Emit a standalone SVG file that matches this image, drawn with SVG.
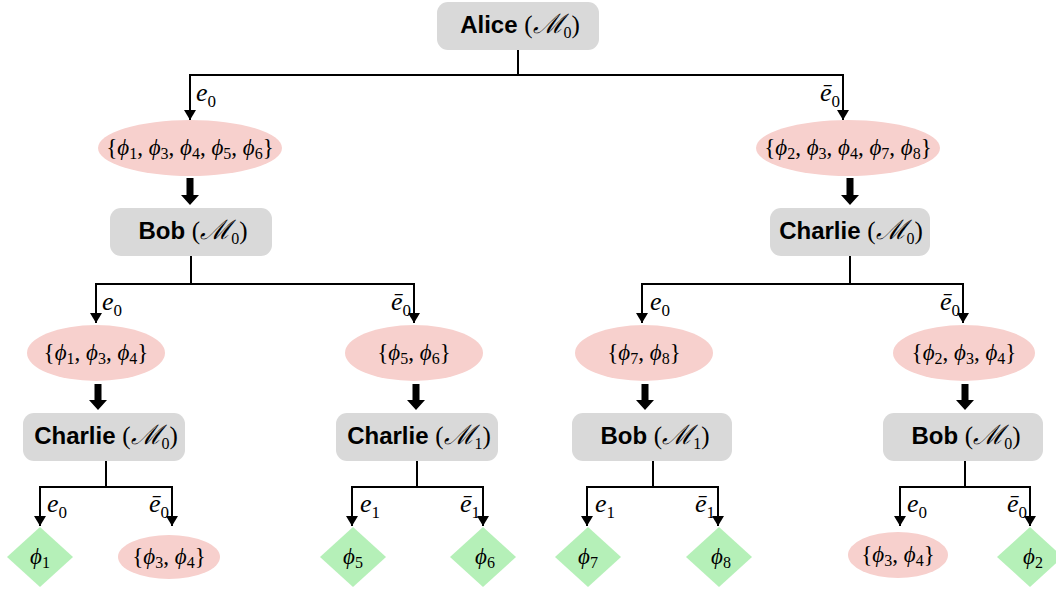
<svg xmlns="http://www.w3.org/2000/svg" width="1056" height="591" viewBox="0 0 1056 591">
<defs>
<style>
.box{fill:#d9d9d9}
.set{fill:#f7d0cd}
.leaf{fill:#b5f0b8}
.ln{stroke:#000;stroke-width:2;fill:none}
.ar{marker-end:url(#ah)}
.thick{fill:#000}
.t{font-family:"Liberation Sans",Arial,sans-serif;font-weight:bold;font-size:24px;fill:#000}
.m{font-family:"Liberation Serif","DejaVu Serif",serif;font-weight:normal;font-size:25px}
.M{font-style:italic;font-size:27px}
.mi{font-style:italic}
.sub{font-size:16px;font-style:normal}
.s{font-family:"Liberation Serif","DejaVu Serif",serif;font-size:23px;fill:#000}
.el{font-family:"Liberation Serif","DejaVu Serif",serif;font-size:26px;font-style:italic;fill:#000}
.els{font-size:17px;font-style:normal}
</style>
<marker id="ah" viewBox="0 0 10 12" markerWidth="10" markerHeight="12" refX="10" refY="6" orient="auto" markerUnits="userSpaceOnUse">
<path d="M0,0 L10,6 L0,12 z" fill="#000"/>
</marker>
</defs>
<rect width="1056" height="591" fill="#fff"/>

<g id="connectors">
<path class="ln" d="M518,50 V75 M190,75 H843"/>
<path class="ln ar" d="M190,74 V120"/>
<path class="ln ar" d="M843,74 V120"/>
<path class="ln" d="M191,255 V284 M96,284 H414"/>
<path class="ln ar" d="M96,283 V323"/>
<path class="ln ar" d="M414,283 V323"/>
<path class="ln" d="M850,255 V284 M642,284 H963"/>
<path class="ln ar" d="M642,283 V323"/>
<path class="ln ar" d="M963,283 V323"/>
<path class="ln" d="M106,461 V487 M40,487 H172"/>
<path class="ln ar" d="M40,486 V526"/>
<path class="ln ar" d="M172,486 V526"/>
<path class="ln" d="M417,461 V487 M352,487 H483"/>
<path class="ln ar" d="M352,486 V526"/>
<path class="ln ar" d="M483,486 V526"/>
<path class="ln" d="M653,461 V487 M587,487 H718"/>
<path class="ln ar" d="M587,486 V526"/>
<path class="ln ar" d="M718,486 V526"/>
<path class="ln" d="M965,461 V487 M900,487 H1030"/>
<path class="ln ar" d="M900,486 V526"/>
<path class="ln ar" d="M1030,486 V526"/>
<path class="thick" d="M186.5,178 h7 v17 h5.5 l-9,10 l-9,-10 h5.5 z"/>
<path class="thick" d="M846.5,178 h7 v17 h5.5 l-9,10 l-9,-10 h5.5 z"/>
<path class="thick" d="M94.5,384 h7 v16 h5.5 l-9,10 l-9,-10 h5.5 z"/>
<path class="thick" d="M412.5,384 h7 v16 h5.5 l-9,10 l-9,-10 h5.5 z"/>
<path class="thick" d="M641.5,384 h7 v16 h5.5 l-9,10 l-9,-10 h5.5 z"/>
<path class="thick" d="M961.5,384 h7 v16 h5.5 l-9,10 l-9,-10 h5.5 z"/>
<text class="el" x="196" y="101">e<tspan class="els" dy="6">0</tspan></text>
<text class="el" x="840" y="101" text-anchor="end">ē<tspan class="els" dy="6">0</tspan></text>
<text class="el" x="102" y="310">e<tspan class="els" dy="6">0</tspan></text>
<text class="el" x="411" y="310" text-anchor="end">ē<tspan class="els" dy="6">0</tspan></text>
<text class="el" x="650" y="310">e<tspan class="els" dy="6">0</tspan></text>
<text class="el" x="960" y="310" text-anchor="end">ē<tspan class="els" dy="6">0</tspan></text>
<text class="el" x="47" y="512">e<tspan class="els" dy="6">0</tspan></text>
<text class="el" x="169" y="512" text-anchor="end">ē<tspan class="els" dy="6">0</tspan></text>
<text class="el" x="360" y="512">e<tspan class="els" dy="6">1</tspan></text>
<text class="el" x="480" y="512" text-anchor="end">ē<tspan class="els" dy="6">1</tspan></text>
<text class="el" x="595" y="512">e<tspan class="els" dy="6">1</tspan></text>
<text class="el" x="715" y="512" text-anchor="end">ē<tspan class="els" dy="6">1</tspan></text>
<text class="el" x="907" y="512">e<tspan class="els" dy="6">0</tspan></text>
<text class="el" x="1027" y="512" text-anchor="end">ē<tspan class="els" dy="6">0</tspan></text>
</g>

<g id="alice">
<rect class="box" x="437" y="2" width="162" height="48" rx="11"/>
<text class="t" x="520" y="33" text-anchor="middle">Alice <tspan class="m">(</tspan><tspan class="m M">ℳ</tspan><tspan class="m sub" dy="5">0</tspan><tspan class="m" dy="-5">)</tspan></text>
</g>

<g id="set-left">
<ellipse class="set" cx="190" cy="148" rx="92" ry="28"/>
<text class="s" x="190" y="155" text-anchor="middle">{<tspan class="mi">ϕ</tspan><tspan class="sub" dy="4">1</tspan><tspan dy="-4">, </tspan><tspan class="mi">ϕ</tspan><tspan class="sub" dy="4">3</tspan><tspan dy="-4">, </tspan><tspan class="mi">ϕ</tspan><tspan class="sub" dy="4">4</tspan><tspan dy="-4">, </tspan><tspan class="mi">ϕ</tspan><tspan class="sub" dy="4">5</tspan><tspan dy="-4">, </tspan><tspan class="mi">ϕ</tspan><tspan class="sub" dy="4">6</tspan><tspan dy="-4">}</tspan></text>
</g>

<g id="set-right">
<ellipse class="set" cx="848" cy="148" rx="92" ry="28"/>
<text class="s" x="848" y="155" text-anchor="middle">{<tspan class="mi">ϕ</tspan><tspan class="sub" dy="4">2</tspan><tspan dy="-4">, </tspan><tspan class="mi">ϕ</tspan><tspan class="sub" dy="4">3</tspan><tspan dy="-4">, </tspan><tspan class="mi">ϕ</tspan><tspan class="sub" dy="4">4</tspan><tspan dy="-4">, </tspan><tspan class="mi">ϕ</tspan><tspan class="sub" dy="4">7</tspan><tspan dy="-4">, </tspan><tspan class="mi">ϕ</tspan><tspan class="sub" dy="4">8</tspan><tspan dy="-4">}</tspan></text>
</g>

<g id="bob-l2">
<rect class="box" x="110" y="208" width="162" height="48" rx="11"/>
<text class="t" x="193" y="239" text-anchor="middle">Bob <tspan class="m">(</tspan><tspan class="m M">ℳ</tspan><tspan class="m sub" dy="5">0</tspan><tspan class="m" dy="-5">)</tspan></text>
</g>

<g id="charlie-l2">
<rect class="box" x="770" y="208" width="160" height="48" rx="11"/>
<text class="t" x="851" y="239" text-anchor="middle">Charlie <tspan class="m">(</tspan><tspan class="m M">ℳ</tspan><tspan class="m sub" dy="5">0</tspan><tspan class="m" dy="-5">)</tspan></text>
</g>

<g id="set-134">
<ellipse class="set" cx="96" cy="353" rx="69" ry="28"/>
<text class="s" x="96" y="360" text-anchor="middle">{<tspan class="mi">ϕ</tspan><tspan class="sub" dy="4">1</tspan><tspan dy="-4">, </tspan><tspan class="mi">ϕ</tspan><tspan class="sub" dy="4">3</tspan><tspan dy="-4">, </tspan><tspan class="mi">ϕ</tspan><tspan class="sub" dy="4">4</tspan><tspan dy="-4">}</tspan></text>
</g>

<g id="set-56">
<ellipse class="set" cx="414" cy="353" rx="69" ry="28"/>
<text class="s" x="414" y="360" text-anchor="middle">{<tspan class="mi">ϕ</tspan><tspan class="sub" dy="4">5</tspan><tspan dy="-4">, </tspan><tspan class="mi">ϕ</tspan><tspan class="sub" dy="4">6</tspan><tspan dy="-4">}</tspan></text>
</g>

<g id="set-78">
<ellipse class="set" cx="644" cy="353" rx="69" ry="28"/>
<text class="s" x="644" y="360" text-anchor="middle">{<tspan class="mi">ϕ</tspan><tspan class="sub" dy="4">7</tspan><tspan dy="-4">, </tspan><tspan class="mi">ϕ</tspan><tspan class="sub" dy="4">8</tspan><tspan dy="-4">}</tspan></text>
</g>

<g id="set-234">
<ellipse class="set" cx="964" cy="353" rx="71" ry="28"/>
<text class="s" x="964" y="360" text-anchor="middle">{<tspan class="mi">ϕ</tspan><tspan class="sub" dy="4">2</tspan><tspan dy="-4">, </tspan><tspan class="mi">ϕ</tspan><tspan class="sub" dy="4">3</tspan><tspan dy="-4">, </tspan><tspan class="mi">ϕ</tspan><tspan class="sub" dy="4">4</tspan><tspan dy="-4">}</tspan></text>
</g>

<g id="charlie-l4a">
<rect class="box" x="23" y="413" width="162" height="48" rx="11"/>
<text class="t" x="106" y="444" text-anchor="middle">Charlie <tspan class="m">(</tspan><tspan class="m M">ℳ</tspan><tspan class="m sub" dy="5">0</tspan><tspan class="m" dy="-5">)</tspan></text>
</g>

<g id="charlie-l4b">
<rect class="box" x="336" y="413" width="162" height="48" rx="11"/>
<text class="t" x="419" y="444" text-anchor="middle">Charlie <tspan class="m">(</tspan><tspan class="m M">ℳ</tspan><tspan class="m sub" dy="5">1</tspan><tspan class="m" dy="-5">)</tspan></text>
</g>

<g id="bob-l4a">
<rect class="box" x="572" y="413" width="160" height="48" rx="11"/>
<text class="t" x="655" y="444" text-anchor="middle">Bob <tspan class="m">(</tspan><tspan class="m M">ℳ</tspan><tspan class="m sub" dy="5">1</tspan><tspan class="m" dy="-5">)</tspan></text>
</g>

<g id="bob-l4b">
<rect class="box" x="883" y="413" width="160" height="48" rx="11"/>
<text class="t" x="966" y="444" text-anchor="middle">Bob <tspan class="m">(</tspan><tspan class="m M">ℳ</tspan><tspan class="m sub" dy="5">0</tspan><tspan class="m" dy="-5">)</tspan></text>
</g>

<g id="leaf-phi1">
<path class="leaf" d="M40,527 L73,557 L40,587 L7,557 z"/>
<text class="s" x="40" y="564" text-anchor="middle"><tspan class="mi">ϕ</tspan><tspan class="sub" dy="4">1</tspan></text>
</g>

<g id="set-34a">
<ellipse class="set" cx="169" cy="557" rx="51" ry="22"/>
<text class="s" x="169" y="564" text-anchor="middle">{<tspan class="mi">ϕ</tspan><tspan class="sub" dy="4">3</tspan><tspan dy="-4">, </tspan><tspan class="mi">ϕ</tspan><tspan class="sub" dy="4">4</tspan><tspan dy="-4">}</tspan></text>
</g>

<g id="leaf-phi5">
<path class="leaf" d="M353,527 L386,557 L353,587 L320,557 z"/>
<text class="s" x="353" y="564" text-anchor="middle"><tspan class="mi">ϕ</tspan><tspan class="sub" dy="4">5</tspan></text>
</g>

<g id="leaf-phi6">
<path class="leaf" d="M483,527 L516,557 L483,587 L450,557 z"/>
<text class="s" x="485" y="564" text-anchor="middle"><tspan class="mi">ϕ</tspan><tspan class="sub" dy="4">6</tspan></text>
</g>

<g id="leaf-phi7">
<path class="leaf" d="M588,527 L621,557 L588,587 L555,557 z"/>
<text class="s" x="588" y="564" text-anchor="middle"><tspan class="mi">ϕ</tspan><tspan class="sub" dy="4">7</tspan></text>
</g>

<g id="leaf-phi8">
<path class="leaf" d="M719,527 L752,557 L719,587 L686,557 z"/>
<text class="s" x="721" y="564" text-anchor="middle"><tspan class="mi">ϕ</tspan><tspan class="sub" dy="4">8</tspan></text>
</g>

<g id="set-34b">
<ellipse class="set" cx="898" cy="555" rx="50" ry="23"/>
<text class="s" x="898" y="562" text-anchor="middle">{<tspan class="mi">ϕ</tspan><tspan class="sub" dy="4">3</tspan><tspan dy="-4">, </tspan><tspan class="mi">ϕ</tspan><tspan class="sub" dy="4">4</tspan><tspan dy="-4">}</tspan></text>
</g>

<g id="leaf-phi2">
<path class="leaf" d="M1030,527 L1063,557 L1030,587 L997,557 z"/>
<text class="s" x="1033" y="564" text-anchor="middle"><tspan class="mi">ϕ</tspan><tspan class="sub" dy="4">2</tspan></text>
</g>
</svg>
